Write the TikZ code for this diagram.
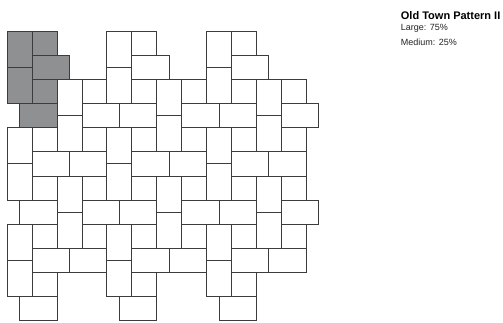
\documentclass[tikz,border=0pt]{standalone}
\usepackage{fontspec}
\setmainfont{Liberation Sans}
\definecolor{stonegrey}{RGB}{142,144,146}
\definecolor{jointgrey}{RGB}{60,60,60}
\definecolor{labelgrey}{RGB}{34,34,34}
\tikzset{
  tile/.style={draw=jointgrey, line width=0.9pt, line join=miter},
}
\begin{document}
\begin{tikzpicture}[x=12.45pt,y=-12.08pt]
\useasboundingbox (-0.586,-2.566) rectangle (39.815,24.09);

% one repeat: 4 large (2x3) + 2 medium (2x2)
\foreach \p/\q/\c in {0/0/stonegrey, 8/0/white, 16/0/white,
                      4/4/white, 12/4/white, 20/4/white,
                      0/8/white, 8/8/white, 16/8/white,
                      4/12/white, 12/12/white, 20/12/white,
                      0/16/white, 8/16/white, 16/16/white} {
  \draw[tile, fill=\c] (\p,\q) rectangle ++(2,3);
  \draw[tile, fill=\c] (\p+2,\q) rectangle ++(2,2);
  \draw[tile, fill=\c] (\p+2,\q+2) rectangle ++(3,2);
  \draw[tile, fill=\c] (\p,\q+3) rectangle ++(2,3);
  \draw[tile, fill=\c] (\p+2,\q+4) rectangle ++(2,2);
  \draw[tile, fill=\c] (\p+1,\q+6) rectangle ++(3,2);
}

%Beschriftung
\node[anchor=base west, inner sep=0pt, font=\bfseries\fontsize{11}{13}\selectfont] (title) at (31.6,-0.99) {Old Town Pattern II};
\node[anchor=base west, inner sep=0pt, text=labelgrey, font=\fontsize{9}{11}\selectfont] (large) at (31.6,-0.03) {Large: 75\%};
\node[anchor=base west, inner sep=0pt, text=labelgrey, font=\fontsize{9}{11}\selectfont] (medium) at (31.6,1.24) {Medium: 25\%};

\end{tikzpicture}
\end{document}
